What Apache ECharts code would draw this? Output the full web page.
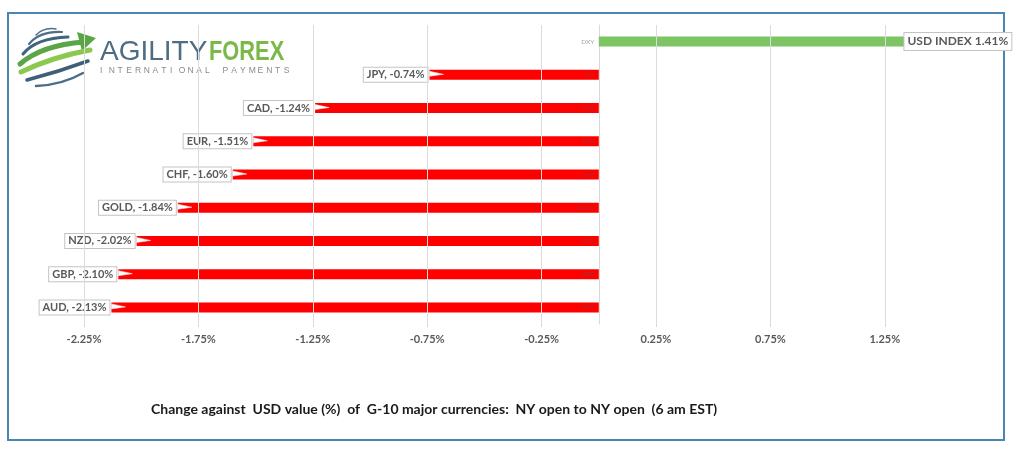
<!DOCTYPE html>
<html>
<head>
<meta charset="utf-8">
<script src="https://cdn.jsdelivr.net/npm/echarts@6/dist/echarts.min.js"></script>
<style>
html,body{margin:0;padding:0;background:#fff;}
#chart{width:1024px;height:460px;}
</style>
</head>
<body>
<div id="chart"></div>
<script>
// ---- data ----
const categories = ['AUD', 'GBP', 'NZD', 'GOLD', 'CHF', 'EUR', 'CAD', 'JPY', 'DXY'];
const values = [-2.13, -2.10, -2.02, -1.84, -1.60, -1.51, -1.24, -0.74, 1.41];
const labelNames = ['AUD, -2.13%', 'GBP, -2.10%', 'NZD, -2.02%', 'GOLD, -1.84%', 'CHF, -1.60%', 'EUR, -1.51%', 'CAD, -1.24%', 'JPY, -0.74%', 'USD INDEX 1.41%'];
const tickValues = [-2.25, -1.75, -1.25, -0.75, -0.25, 0.25, 0.75, 1.25];
const tickLabels = ['-2.25%', '-1.75%', '-1.25%', '-0.75%', '-0.25%', '0.25%', '0.75%', '1.25%'];
const axisMin = -2.25, axisMax = 1.5, axisStep = 0.5;
const footnote = 'Change against  USD value (%)  of  G-10 major currencies:  NY open to NY open  (6 am EST)';
const logoWord1 = 'AGILITY', logoWord2 = 'FOREX', logoSub = 'INTERNATIONAL PAYMENTS';

const FONT = 'Lato';
const GRID_LEFT = 84;
const baseLabel = {
  show: true,
  fontFamily: FONT,
  fontWeight: 'bold',
  fontSize: 11,
  color: '#595959',
  backgroundColor: '#ffffff',
  borderColor: '#c4c4c4',
  borderWidth: 1,
  padding: [2, 3, 1, 3]
};

const barData = values.map((v, i) => {
  const pos = v >= 0;
  return {
    value: v,
    itemStyle: { color: pos ? '#7dc464' : '#ff0000' },
    label: Object.assign({}, baseLabel, pos ? {
      position: 'right', distance: 0, offset: [-17, 0], fontSize: 12, padding: [3, 3, 2, 3]
    } : {
      position: 'left', distance: 2
    }, { formatter: () => labelNames[i] })
  };
});

// callout pointers from each negative label into its bar
const pointerData = values.map((v, i) => ({ v: v, c: categories[i] }))
  .filter(d => d.v < 0)
  .map(d => ({ coord: [d.v, d.c] }));

// category names drawn at the zero line, on top of the bars
const catLabelData = categories.map(c => [0, c]);

const chart = echarts.init(document.getElementById('chart'), null, { renderer: 'canvas' });

function curve(x1, y1, cx, cy, x2, y2, color, w) {
  return { type: 'bezierCurve', shape: { x1: x1, y1: y1, cpx1: cx, cpy1: cy, x2: x2, y2: y2 }, style: { fill: null, stroke: color, lineWidth: w, lineCap: 'round' } };
}

const logoGraphics = [
  // frame
  { type: 'rect', z: 0, shape: { x: 8, y: 13, width: 996, height: 427 }, style: { fill: 'none', stroke: '#4a86b0', lineWidth: 2 } },
  // globe swirls
  curve(36, 35, 44, 27, 56, 29, '#4d6d88', 1.5),
  curve(29, 44, 40, 31, 62, 32, '#4d6d88', 2.2),
  curve(23, 54, 36, 38, 68, 37, '#3f6482', 3),
  curve(20, 64, 42, 45, 84, 42, '#5aa545', 5),
  { type: 'polygon', shape: { points: [[77, 32], [96, 38], [82, 51]] }, style: { fill: '#5aa545' } },
  curve(21, 72, 52, 57, 90, 50, '#8cc850', 5),
  curve(27, 80, 58, 72, 88, 61, '#3f5f78', 3.5),
  curve(36, 86, 62, 85, 83, 73, '#4d6d88', 2.5),
  // logo text
  { type: 'text', x: 100, y: 38, style: { text: logoWord1, fontFamily: 'Liberation Sans', fontSize: 28, fill: '#4e6c82', textBaseline: 'top' } },
  { type: 'text', x: 209, y: 38, scaleX: 0.78, style: { text: logoWord2, fontFamily: 'Liberation Sans', fontWeight: 'bold', fontSize: 28, fill: '#7ab84a', textBaseline: 'top' } }
].concat(logoSub.split('').map((ch, k) => ({
  type: 'text', x: 100 + k * 8.75, y: 66,
  style: { text: ch, fontFamily: 'Liberation Sans', fontSize: 8.5, fill: '#8a8a8a', textBaseline: 'top' }
}))).concat([
  // footnote
  { type: 'text', x: 151, y: 402, style: { text: footnote, fontFamily: FONT, fontWeight: 'bold', fontSize: 14, fill: '#1a1a1a', textBaseline: 'top' } }
]);

const option = {
  animation: false,
  backgroundColor: '#ffffff',
  grid: { left: GRID_LEFT, right: 82, top: 25, bottom: 136, containLabel: false },
  xAxis: {
    type: 'value',
    min: axisMin, max: axisMax, interval: axisStep,
    splitLine: { show: false },
    axisLine: { show: false },
    axisTick: { show: true, length: 3, lineStyle: { color: '#d9d9d9' } },
    axisLabel: {
      showMaxLabel: false,
      margin: 10,
      fontFamily: FONT, fontSize: 11, fontWeight: 'bold', color: '#595959',
      formatter: (v) => {
        const idx = tickValues.findIndex(t => Math.abs(t - v) < 1e-9);
        return idx >= 0 ? tickLabels[idx] : '';
      }
    }
  },
  yAxis: {
    type: 'category',
    data: categories,
    offset: 0,
    axisLine: { show: true, onZero: false, lineStyle: { color: '#d9d9d9', width: 1 } },
    axisTick: { show: false },
    axisLabel: { show: false }
  },
  graphic: logoGraphics,
  series: [
    {
      type: 'line', data: [], z: 1, silent: true,
      markLine: {
        silent: true, symbol: 'none', animation: false,
        label: { show: false },
        lineStyle: { color: '#dcdcdc', width: 1, type: 'solid' },
        data: tickValues.map(t => ({ xAxis: t }))
      }
    },
    {
      type: 'bar', z: 2,
      barWidth: 10,
      data: barData,
      markPoint: {
        silent: true, animation: false,
        symbol: 'path://M0,0 L14,3 L0,5 Z',
        symbolSize: [14, 5],
        symbolOffset: [7, -1],
        itemStyle: { color: '#ffffff', borderColor: '#e8e8e8', borderWidth: 0.5 },
        label: { show: false },
        data: pointerData
      }
    },
    {
      type: 'scatter', z: 5, silent: true,
      symbolSize: 1,
      itemStyle: { color: 'rgba(0,0,0,0)' },
      data: catLabelData,
      label: {
        show: true, position: 'left', distance: 4,
        fontFamily: FONT, fontSize: 6.5, color: 'rgba(90,90,90,0.7)',
        formatter: (p) => categories[p.dataIndex]
      },
      labelLayout: { hideOverlap: false }
    }
  ]
};
chart.setOption(option);
// move the category axis to the zero of the value axis
const zeroX = chart.convertToPixel({ xAxisIndex: 0 }, 0);
chart.setOption({ yAxis: { offset: -(zeroX - GRID_LEFT) } });
</script>
</body>
</html>
